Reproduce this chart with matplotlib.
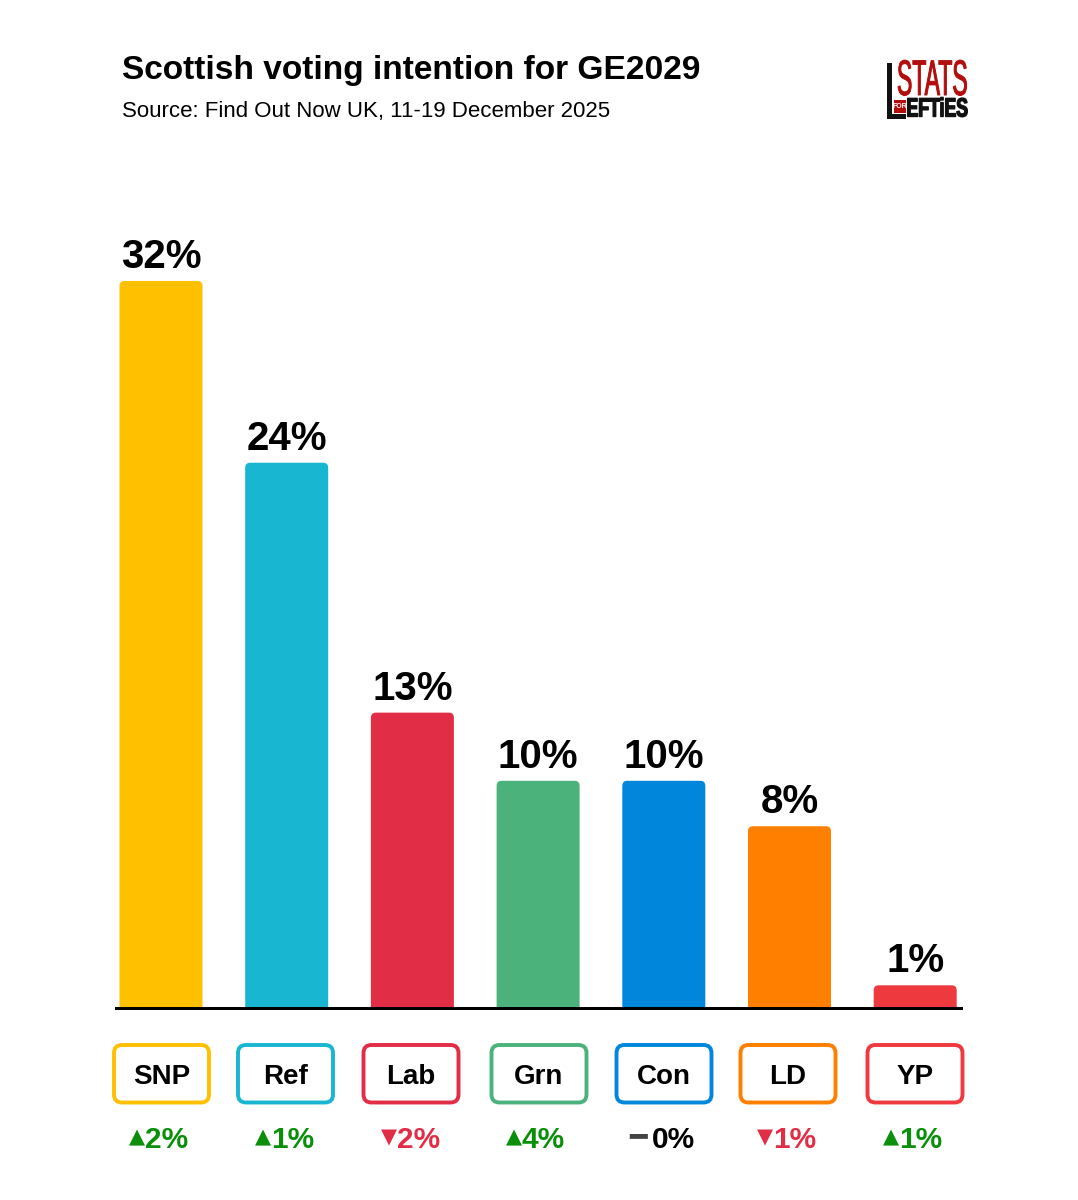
import matplotlib
matplotlib.use("Agg")

import matplotlib.pyplot as plt
import matplotlib.patheffects as pe
from matplotlib.patches import FancyBboxPatch, Rectangle
from matplotlib.transforms import Affine2D

plt.rcParams["font.family"] = ["Liberation Sans", "DejaVu Sans"]

# ── data ─────────────────────────────────────────────────────────
parties = ["SNP", "Ref", "Lab", "Grn", "Con", "LD", "YP"]
shares = [32, 24, 13, 10, 10, 8, 1]
changes = [2, 1, -2, 4, 0, -1, 1]
colours = ["#FFC000", "#19B6D2", "#E12D45", "#4CB27B", "#0087DC", "#FF7F00", "#EE3A3E"]

W, H = 1078, 1200
fig = plt.figure(figsize=(W / 100, H / 100), dpi=100, facecolor="white")


class Squeeze(pe.AbstractPathEffect):
    """Narrow a text horizontally about a fixed pixel column (logo lettering)."""

    def __init__(self, sx, x0, stroke=0.0):
        super().__init__()
        self.sx, self.x0, self.stroke = sx, x0, stroke

    def draw_path(self, renderer, gc, tpath, affine, rgbFace=None):
        squeeze = Affine2D().translate(-self.x0, 0).scale(self.sx, 1).translate(self.x0, 0)
        gc0 = renderer.new_gc()
        gc0.copy_properties(gc)
        gc0.set_foreground(rgbFace)
        gc0.set_linewidth(self.stroke)
        renderer.draw_path(gc0, tpath, affine + squeeze, rgbFace)
        gc0.restore()


# ── bars ─────────────────────────────────────────────────────────
px_x = 125.7  # pixels per category
px_y = 22.72  # pixels per percentage point
ax_l, ax_r, ax_t, ax_b = 115, 963, 200, 1008
ax = fig.add_axes([ax_l / W, 1 - ax_b / H, (ax_r - ax_l) / W, (ax_b - ax_t) / H])
ax.set_xlim(-(161 - ax_l) / px_x, (ax_r - 161) / px_x)
ax.set_ylim(0, (ax_b - ax_t) / px_y)
ax.axis("off")

bar_w = 83 / px_x
for i, (val, col) in enumerate(zip(shares, colours)):
    # start below the baseline so only the top corners show rounded
    ax.add_patch(FancyBboxPatch((i - bar_w / 2, -1), bar_w, val + 1,
                                boxstyle=f"round,pad=0,rounding_size={5 / px_x}",
                                mutation_aspect=px_x / px_y,
                                fc=col, ec="none"))
    ax.annotate(f"{val}%", (i, val), xytext=(0, 5), textcoords="offset pixels",
                ha="center", va="bottom", fontsize=29, fontweight="bold", color="black")

# ── overlay in pixel coordinates ─────────────────────────────────
ov = fig.add_axes([0, 0, 1, 1])
ov.set_xlim(0, W)
ov.set_ylim(H, 0)
ov.axis("off")
ov.patch.set_alpha(0)

ov.add_patch(Rectangle((115, 1006.5), 848, 3.5, fc="black", ec="none"))

ov.text(122, 70.5, "Scottish voting intention for GE2029", fontsize=24.1, fontweight="bold",
        va="center", ha="left", color="black")
ov.text(122, 111, "Source: Find Out Now UK, 11-19 December 2025", fontsize=16,
        va="center", ha="left", color="black")

# party boxes and change labels
box_x = [161.5, 285.5, 411, 539, 664, 788, 915]
num_left = [145, 271, 397, 522, 652, 773, 899]
UP, DOWN, FLAT = "#0A8F0A", "#E12D45", "black"
for name, col, cx, chg, nx in zip(parties, colours, box_x, changes, num_left):
    ov.add_patch(FancyBboxPatch((cx - 47.5, 1045), 95, 57.5,
                                boxstyle="round,pad=0,rounding_size=8",
                                fc="white", ec=col, lw=2.8))
    ov.text(cx, 1077, name, fontsize=20, fontweight="bold", ha="center", va="center")
    if chg > 0:
        sym, c_sym, c_txt, fs, dx = "▲", UP, UP, 15, 8
    elif chg < 0:
        sym, c_sym, c_txt, fs, dx = "▼", DOWN, DOWN, 15, 8
    else:
        sym, c_sym, c_txt, fs, dx = "━", "#444444", FLAT, 21, 14
    ov.text(nx - dx, 1137.5, sym, fontsize=fs, fontweight="bold", ha="center", va="center",
            color=c_sym, family="DejaVu Sans")
    ov.text(nx, 1137, f"{abs(chg)}%", fontsize=21.5, fontweight="bold", ha="left",
            va="center_baseline", color=c_txt)

# ── logo ─────────────────────────────────────────────────────────
RED = "#B20C0C"
ov.add_patch(Rectangle((887, 63), 5, 56, fc="#111111", ec="none"))
ov.add_patch(Rectangle((887, 114), 19, 5, fc="#111111", ec="none"))
ov.text(967.5, 82, "STATS", fontsize=36, color=RED, ha="right", va="center",
        path_effects=[Squeeze(0.46, 967.5, stroke=0.7)])
ov.add_patch(Rectangle((894, 100), 12, 13, fc=RED, ec="none"))
ov.text(900, 106.5, "FOR", fontsize=5, color="white", fontweight="bold", ha="center", va="center")
ov.text(968, 109.5, "EFTiES", fontsize=19, fontweight="bold", color="#111111",
        ha="right", va="center", path_effects=[Squeeze(0.67, 968, stroke=1.0)])

fig.savefig("out.png", dpi=100, facecolor="white")
